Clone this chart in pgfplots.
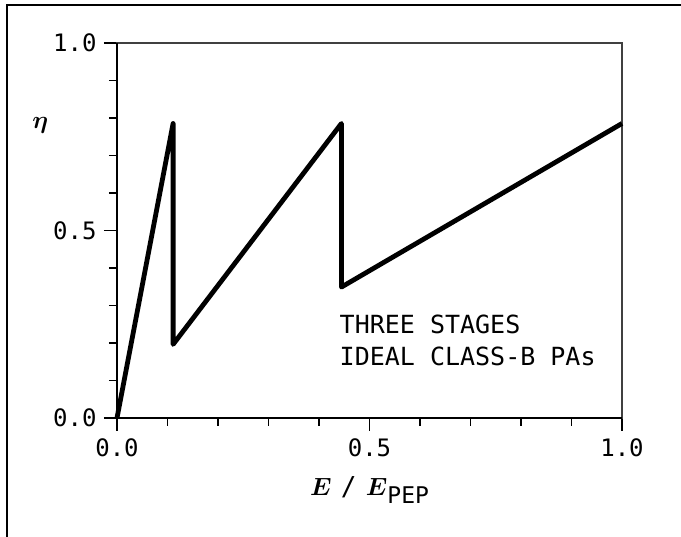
\documentclass[border=0pt]{standalone}
\usepackage{pgfplots}
\pgfplotsset{compat=1.18}
\usepackage{amsmath,amssymb,bm}
\usepackage{fontspec}
\newfontfamily\monof{DejaVu Sans Mono}
\begin{document}
\begin{tikzpicture}[x=1pt,y=1pt]
\useasboundingbox (-117,-119) rectangle (564,418);
\draw[line width=1.6pt, black] (-110,-119) -- (-110,413) -- (564,413);
\begin{axis}[
  at={(0,0)}, anchor=south west,
  scale only axis, width=505pt, height=375pt,
  xmin=0, xmax=1, ymin=0, ymax=1,
  xtick={0,0.5,1}, ytick={0,0.5,1},
  minor tick num=4,
  xtick pos=bottom, ytick pos=left,
  tick align=outside,
  major tick length=13pt, minor tick length=8pt,
  every tick/.style={black, line width=1.3pt},
  axis line style={line width=1.2pt, black!75},
  tick label style={font=\monof\fontsize{24}{24}\selectfont},
  /pgf/number format/.cd, fixed, fixed zerofill, precision=1, assume math mode=true,
  /pgfplots/.cd,
  xticklabel style={yshift=-4pt},
  yticklabel style={xshift=-4pt},
  clip=false,
]
\draw[line width=2pt, black] (rel axis cs:0,1) -- (rel axis cs:0,0) -- (rel axis cs:1,0);
\addplot[black, line width=4.8pt, line join=round] coordinates {
  (0,0) (0.1111,0.7854) (0.1111,0.1963) (0.4444,0.7854) (0.4444,0.3491) (1,0.7854)
};
\node[anchor=base west, align=left, font=\monof\fontsize{25}{32}\selectfont]
  at (axis cs:0.434,0.139) {THREE STAGES\\IDEAL CLASS-B PAs};
\node[anchor=base, font=\fontsize{31}{31}\selectfont] at (axis cs:0.5,0) [yshift=-78pt]
  {$\bm{E}$ {\monof\fontsize{26}{26}\selectfont /} $\bm{E}$\raisebox{-8pt}{\monof\fontsize{23}{23}\selectfont PEP}};
\node[font=\fontsize{38}{38}\selectfont] at (axis cs:-0.152,0.78) {$\bm{\eta}$};
\end{axis}
\end{tikzpicture}
\end{document}
